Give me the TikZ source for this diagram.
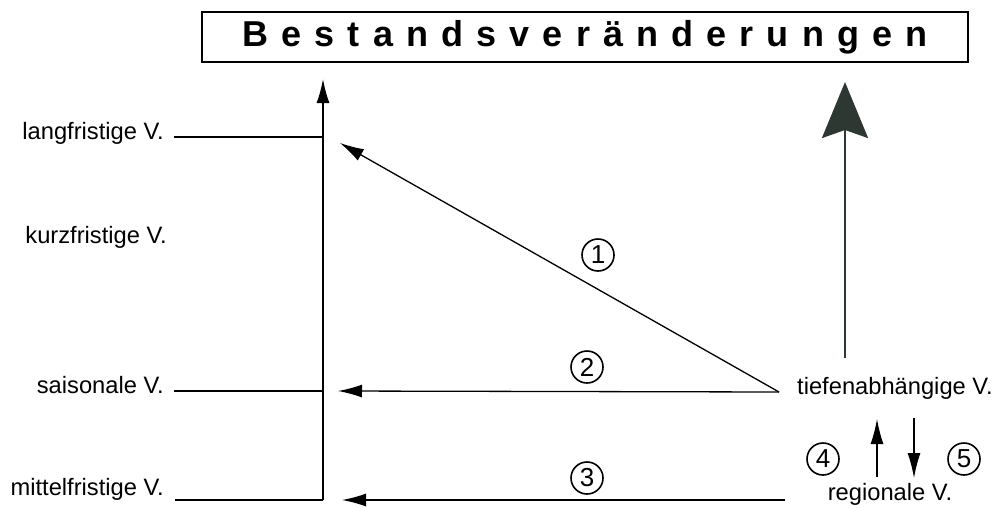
\documentclass[tikz,border=0pt]{standalone}
\usepackage{fontspec}
\setmainfont{Liberation Sans}
\usetikzlibrary{arrows.meta}
\definecolor{bigdark}{HTML}{2E3833}
\begin{document}
\begin{tikzpicture}[x=1pt,y=-1pt,
  lbl/.style={font=\fontsize{23.7}{26}\selectfont, inner sep=0pt},
  thinline/.style={line width=1.3pt},
  arr/.style={line width=1.3pt, -{Latex[length=24pt,width=13pt]}},
  smallarr/.style={line width=1.3pt, -{Latex[length=25pt,width=13pt]}},
  bigarr/.style={line width=2.5pt, draw=bigdark, -{Stealth[length=56pt,width=46pt,inset=8pt,fill=bigdark]}},
  num/.style={draw, circle, line width=1.6pt, minimum size=32pt, inner sep=0pt, font=\fontsize{26}{26}\selectfont}]
\useasboundingbox (0,0) rectangle (994,507);
% title
\node[draw, line width=1.5pt, minimum width=766pt, minimum height=50pt, inner sep=0pt,
  font=\bfseries\fontsize{36}{36}\selectfont] (title) at (585,37)
  {\makebox[685pt][s]{B\hfill e\hfill s\hfill t\hfill a\hfill n\hfill d\hfill s\hfill v\hfill e\hfill r\hfill ä\hfill n\hfill d\hfill e\hfill r\hfill u\hfill n\hfill g\hfill e\hfill n}\hspace{10pt}};
% labels
\node[lbl, anchor=mid east] (lang) at (164,137) {langfristige V.};
\node[lbl, anchor=mid east] (kurz) at (167,241) {kurzfristige V.};
\node[lbl, anchor=mid east] (sais) at (164,391) {saisonale V.};
\node[lbl, anchor=mid east] (mitt) at (164,493) {mittelfristige V.};
\node[lbl, anchor=mid west] (tief) at (797,392) {tiefenabhängige V.};
\node[lbl] (reg) at (890,494) {regionale V.};
% axis
\coordinate (axB) at (323,500);
\coordinate (axT) at (323,79);
\draw[arr, line width=1.5pt] (axB) -- (axT);
\draw[thinline] ([xshift=10pt]lang.mid east) -- (lang.mid east -| axB);
\draw[thinline] ([xshift=10pt]sais.mid east) -- (sais.mid east -| axB);
\draw[thinline] ([xshift=11pt]mitt.mid east |- axB) -- (axB);
% arrows from tiefenabhaengige
\coordinate (src) at ([xshift=-18pt]tief.mid west);
\coordinate (t1) at (340,143);
\coordinate (t2) at (338,391);
\coordinate (s3) at (785,500);
\coordinate (t3) at (342,500);
\draw[arr] (src) -- (t1);
\draw[arr] (src) -- (t2);
\draw[arr] (s3) -- (t3);
% big arrow
\coordinate (bigbase) at (845,358);
\coordinate (bigtip) at (845,82);
\draw[bigarr] (bigbase) -- (bigtip);
% arrows 4 and 5
\coordinate (a4b) at (877,477);
\coordinate (a4t) at (877,419);
\coordinate (a5t) at (914,418);
\coordinate (a5b) at (914,478);
\draw[smallarr] (a4b) -- (a4t);
\draw[smallarr] (a5t) -- (a5b);
% numbers
\node[num] (n1) at (598,255) {1};
\node[num] (n2) at (587,367) {2};
\node[num] (n3) at (587,478) {3};
\node[num] (n4) at (823,459) {4};
\node[num] (n5) at (964,459) {5};
\end{tikzpicture}
\end{document}
